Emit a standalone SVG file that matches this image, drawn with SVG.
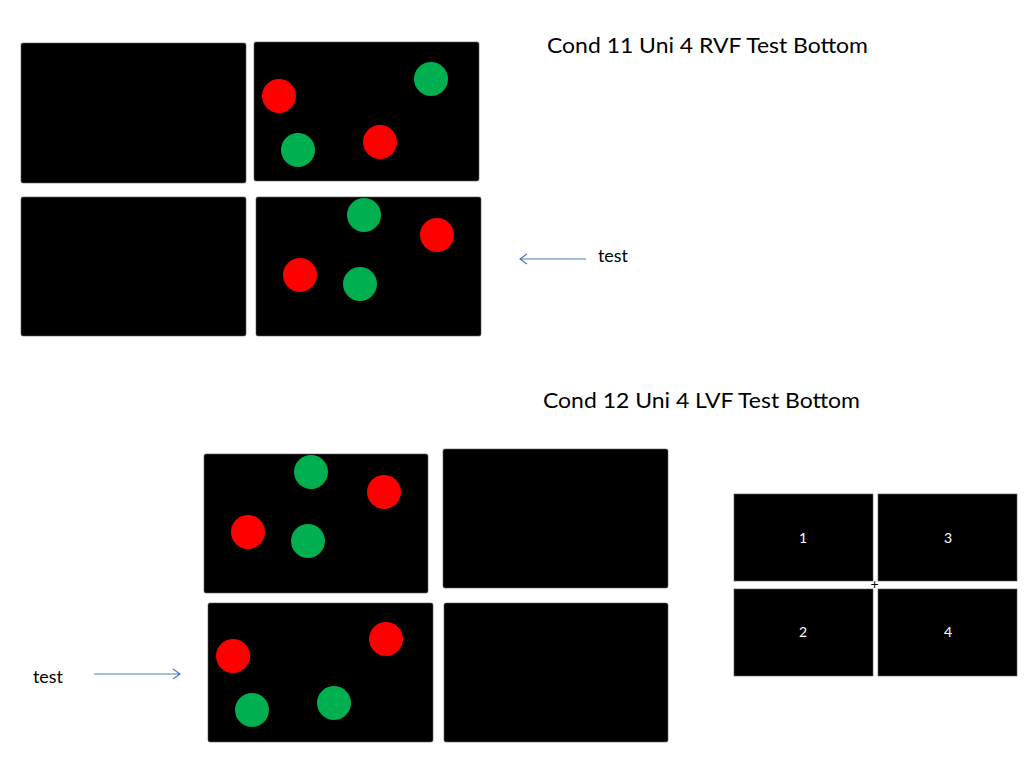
<svg xmlns="http://www.w3.org/2000/svg" width="1024" height="768" viewBox="0 0 1024 768">
<style>
.scr{fill:#000;stroke:#5a5a5a;stroke-width:0.6}
.r{fill:#ff0000}
.g{fill:#00b050}
.t{font-family:Lato,"Liberation Sans",Arial,sans-serif;fill:#000}
.title{font-size:22px}
.lab{font-size:18px}
.num{font-family:Lato,"Liberation Sans",Arial,sans-serif;font-size:14px;fill:#fff;text-anchor:middle}
.conn{stroke:#4a7ebb;stroke-width:1.2;fill:none}
</style>
<rect width="1024" height="768" fill="#fff"/>
<g id="cond11-tl"><rect class="scr" x="21" y="43" width="225" height="140" rx="2"/></g>
<g id="cond11-tr"><rect class="scr" x="254" y="42" width="225" height="139" rx="2"/>
<circle class="r" cx="279" cy="96" r="17"/><circle class="g" cx="431" cy="79" r="17"/>
<circle class="g" cx="298" cy="150" r="17"/><circle class="r" cx="380" cy="142" r="17"/></g>
<g id="cond11-bl"><rect class="scr" x="21" y="197" width="225" height="139" rx="2"/></g>
<g id="cond11-br"><rect class="scr" x="256" y="197" width="225" height="139" rx="2"/>
<circle class="g" cx="364" cy="215" r="17"/><circle class="r" cx="437" cy="235" r="17"/>
<circle class="r" cx="300" cy="275" r="17"/><circle class="g" cx="360" cy="284" r="17"/></g>
<text id="title11" class="t title" x="547" y="53" textLength="321" lengthAdjust="spacingAndGlyphs">Cond 11 Uni 4 RVF Test Bottom</text>
<g id="label-test1"><text class="t lab" x="598" y="262" textLength="30" lengthAdjust="spacingAndGlyphs">test</text></g>

<g id="cond12-tl"><rect class="scr" x="204" y="454" width="224" height="139" rx="2"/>
<circle class="g" cx="311" cy="472" r="17"/><circle class="r" cx="384" cy="492" r="17"/>
<circle class="r" cx="248" cy="532" r="17"/><circle class="g" cx="308" cy="541" r="17"/></g>
<g id="cond12-tr"><rect class="scr" x="443" y="449" width="225" height="139" rx="2"/></g>
<g id="cond12-bl"><rect class="scr" x="208" y="603" width="225" height="139" rx="2"/>
<circle class="r" cx="386" cy="639" r="17"/><circle class="r" cx="233" cy="656" r="17"/>
<circle class="g" cx="252" cy="710" r="17"/><circle class="g" cx="334" cy="703" r="17"/></g>
<g id="cond12-br"><rect class="scr" x="444" y="603" width="224" height="139" rx="2"/></g>
<text id="title12" class="t title" x="543" y="408" textLength="317" lengthAdjust="spacingAndGlyphs">Cond 12 Uni 4 LVF Test Bottom</text>
<g id="label-test2"><text class="t lab" x="33" y="683" textLength="30" lengthAdjust="spacingAndGlyphs">test</text></g>

<g id="legend">
<g id="q1"><rect class="scr" x="734" y="494" width="139" height="87"/><text class="num" x="803" y="543">1</text></g>
<g id="q3"><rect class="scr" x="878" y="494" width="139" height="87"/><text class="num" x="948" y="543">3</text></g>
<g id="q2"><rect class="scr" x="734" y="589" width="139" height="87"/><text class="num" x="803" y="637">2</text></g>
<g id="q4"><rect class="scr" x="878" y="589" width="139" height="87"/><text class="num" x="948" y="637">4</text></g>
<text class="t" x="874.5" y="589" font-size="14" text-anchor="middle">+</text>
</g>

<g id="connectors">
<path class="conn" d="M586 259 H520 M527 254 L520 259 L527 264"/>
<path class="conn" d="M94 674 H180 M173 669 L180 674 L173 679"/>
</g>
</svg>
